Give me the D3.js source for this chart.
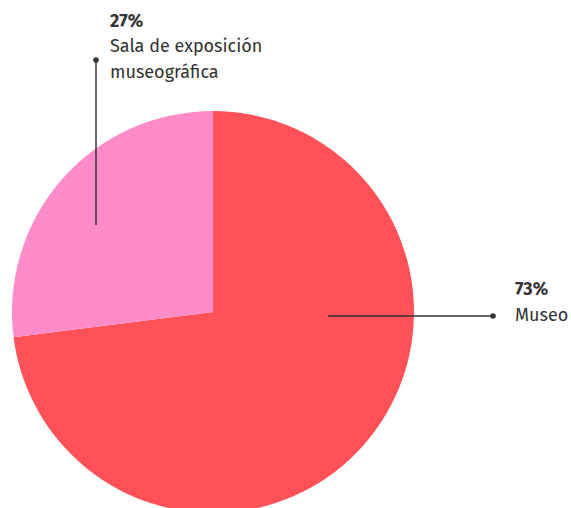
<!DOCTYPE html>
<html><head><meta charset="utf-8">
<script src="https://cdn.jsdelivr.net/npm/d3@7"></script>
<style>body{margin:0;background:#fff;overflow:hidden}svg{display:block}</style>
</head><body>
<script>
const categories = ["Museo", "Sala de exposición museográfica"];
const values = [73, 27];
const labels = ["73%", "27%"];
const colors = ["#ff5157", "#ff8cc8"];

const W = 571, H = 508;
const cx = 213, cy = 312, R = 201;
const svg = d3.select("body").append("svg").attr("width", W).attr("height", H);

const pie = d3.pie().sort(null).value(d => d)(values);
const arc = d3.arc().innerRadius(0).outerRadius(R);
const g = svg.append("g").attr("transform", `translate(${cx},${cy})`);
g.selectAll("path").data(pie).enter().append("path")
  .attr("d", arc).attr("fill", (d, i) => colors[i]);

// annotations
const ann = [
  {pts: [[328, 316], [493, 316]], dot: [493, 316], tx: 515, ty: [290, 316], lines: [labels[0], categories[0]]},
  {pts: [[96, 225], [96, 60]], dot: [96, 60], tx: 110, ty: [22, 47, 73], lines: [labels[1], "Sala de exposición", "museográfica"]}
];
const font = "'Fira Sans', Lato, 'Open Sans', sans-serif";
ann.forEach(a => {
  svg.append("line").attr("x1", a.pts[0][0]).attr("y1", a.pts[0][1])
    .attr("x2", a.pts[1][0]).attr("y2", a.pts[1][1])
    .attr("stroke", "#333").attr("stroke-opacity", 0.75).attr("stroke-width", 2);
  svg.append("circle").attr("cx", a.dot[0]).attr("cy", a.dot[1]).attr("r", 2.8).attr("fill", "#333");
  a.lines.forEach((t, i) => {
    svg.append("text").attr("x", a.tx).attr("y", a.ty[i])
      .attr("font-family", font).attr("font-size", 18)
      .attr("font-weight", i === 0 ? 700 : 400)
      .attr("fill", "#333").attr("dominant-baseline", "middle").text(t);
  });
});
</script>
</body></html>
